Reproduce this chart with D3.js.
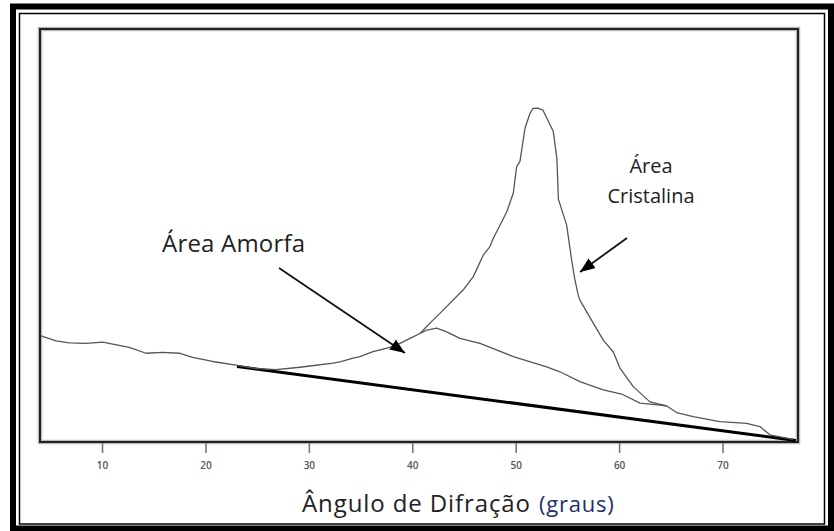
<!DOCTYPE html>
<html>
<head>
<meta charset="utf-8">
<script src="https://cdn.jsdelivr.net/npm/d3@7"></script>
<style>
  html, body { margin: 0; padding: 0; background: #fff; }
  svg { display: block; }
</style>
</head>
<body>
<svg id="chart" width="834" height="531"></svg>
<script>
// ---- data (2θ in degrees, intensity in arbitrary units) ----
const tickValues = [10, 20, 30, 40, 50, 60, 70];

const totalAngle = [4.1, 5.55, 6.83, 8.45, 10.06, 11.03, 12.63, 14.25, 15.86, 17.47, 18.76, 20.7, 22.95, 24.89, 26.82,
  29.14, 30.11, 32.33, 33.01, 34.27, 34.94, 36.2, 36.88, 38.13, 38.81, 39.78, 40.74, 41.71, 42.84, 44.93, 45.9,
  46.86, 47.51, 47.84, 49.13, 49.77, 50.09, 50.41, 50.9, 51.38, 51.67, 52.15, 52.64, 53.63, 53.99, 54.13, 54.93,
  55.41, 55.73, 56.05, 56.21, 57.5, 58.47, 59.44, 60.08, 61.37, 62.98, 64.6, 65.56, 67.17, 69.75, 72.33, 73.62,
  74.58, 75.55, 76.81];
const totalIntensity = [25.5, 24.3, 23.8, 23.7, 24.0, 23.5, 22.7, 21.3, 21.5, 21.3, 20.3, 19.3, 18.4, 17.6, 17.3,
  17.9, 18.2, 18.9, 19.2, 20.1, 20.5, 21.7, 22.1, 22.9, 23.7, 24.9, 26.1, 28.6, 31.4, 36.7, 39.9,
  45.1, 47.2, 49.2, 55.6, 60.2, 66.6, 67.8, 75.9, 79.5, 80.7, 80.8, 80.3, 75.2, 68.4, 58.7, 52.4,
  43.9, 39.1, 35.4, 34.2, 28.6, 24.5, 21.6, 17.7, 13.2, 9.5, 8.5, 6.9, 5.9, 4.7, 4.3, 3.5,
  1.5, 1.0, 0.4];

const amorphAngle = [40.74, 41.39, 42.36, 43.33, 44.61, 46.55, 49.77, 52.99, 54.28, 56.21, 58.47, 60.25, 62.02, 63.96, 64.6];
const amorphIntensity = [26.1, 26.9, 27.4, 26.5, 24.9, 23.7, 20.5, 18.0, 16.8, 14.4, 12.4, 11.4, 9.2, 8.7, 8.5];

const baselineAngle = [23.05, 77.1];
const baselineIntensity = [18.1, 0.1];

const labelAmorfa = "Área Amorfa";
const labelCristalina = ["Área", "Cristalina"];
const xTitle = "Ângulo de Difração";
const xUnit = "(graus)";

// ---- drawing ----
const svg = d3.select("#chart");

// decorative frame
svg.append("rect").attr("x", 13).attr("y", 6.5).attr("width", 818).attr("height", 522)
  .attr("fill", "none").attr("stroke", "#000").attr("stroke-width", 6);
svg.append("rect").attr("x", 19.5).attr("y", 13.5).attr("width", 805).attr("height", 510.5)
  .attr("fill", "none").attr("stroke", "#000").attr("stroke-width", 1.5);

const plot = { left: 40, right: 798, top: 29, bottom: 442 };
const x = d3.scaleLinear().domain([4, 77.3]).range([plot.left, plot.right]);
const y = d3.scaleLinear().domain([0, 100]).range([441, plot.top]);

// plot box (soft shadow + dark line)
svg.append("rect").attr("x", plot.left).attr("y", plot.top)
  .attr("width", plot.right - plot.left).attr("height", plot.bottom - plot.top)
  .attr("fill", "none").attr("stroke", "#bbb").attr("stroke-width", 4.5);
svg.append("rect").attr("x", plot.left).attr("y", plot.top)
  .attr("width", plot.right - plot.left).attr("height", plot.bottom - plot.top)
  .attr("fill", "none").attr("stroke", "#222").attr("stroke-width", 2);

// axis
const axis = d3.axisBottom(x).tickValues(tickValues).tickSize(10).tickPadding(9).tickFormat(d => d);
const gAxis = svg.append("g").attr("transform", `translate(0,${plot.bottom + 1})`).call(axis);
gAxis.select(".domain").remove();
gAxis.selectAll(".tick line").attr("stroke", "#777").attr("stroke-width", 1.6);
gAxis.selectAll(".tick text").attr("fill", "#555").attr("font-family", "'Open Sans', sans-serif")
  .attr("font-size", 10).attr("font-weight", 600);

// curves
const line = d3.line().x(d => x(d[0])).y(d => y(d[1]));
const zip = (a, b) => a.map((v, i) => [v, b[i]]);

svg.append("path").datum(zip(baselineAngle, baselineIntensity))
  .attr("d", line).attr("fill", "none").attr("stroke", "#000").attr("stroke-width", 3);
svg.append("path").datum(zip(amorphAngle, amorphIntensity))
  .attr("d", line).attr("fill", "none").attr("stroke", "#555").attr("stroke-width", 1.3)
  .attr("stroke-linejoin", "round");
svg.append("path").datum(zip(totalAngle, totalIntensity))
  .attr("d", line).attr("fill", "none").attr("stroke", "#555").attr("stroke-width", 1.3)
  .attr("stroke-linejoin", "round");

// arrows
const defs = svg.append("defs");
defs.append("marker").attr("id", "ah").attr("viewBox", "0 0 10 10")
  .attr("refX", 10).attr("refY", 5).attr("markerWidth", 15).attr("markerHeight", 12)
  .attr("markerUnits", "userSpaceOnUse").attr("orient", "auto")
  .attr("preserveAspectRatio", "none")
  .append("path").attr("d", "M0,0 L10,5 L0,10 Z").attr("fill", "#000");

svg.append("line").attr("x1", 279).attr("y1", 268).attr("x2", 405).attr("y2", 353)
  .attr("stroke", "#111").attr("stroke-width", 1.8).attr("marker-end", "url(#ah)");
svg.append("line").attr("x1", 627).attr("y1", 238).attr("x2", 580).attr("y2", 272)
  .attr("stroke", "#111").attr("stroke-width", 1.8).attr("marker-end", "url(#ah)");

// annotation text
const tf = "'Open Sans', sans-serif";
svg.append("text").attr("x", 162).attr("y", 252)
  .attr("font-family", tf).attr("font-size", 24).attr("letter-spacing", 0.2)
  .attr("fill", "#222").text(labelAmorfa);
svg.append("text").attr("x", 651).attr("y", 173).attr("text-anchor", "middle")
  .attr("font-family", tf).attr("font-size", 20).attr("fill", "#222").text(labelCristalina[0]);
svg.append("text").attr("x", 651).attr("y", 203).attr("text-anchor", "middle")
  .attr("font-family", tf).attr("font-size", 20).attr("fill", "#222").text(labelCristalina[1]);

// x title
const title = svg.append("text").attr("x", 302).attr("y", 512)
  .attr("font-family", tf).attr("fill", "#222");
title.append("tspan").attr("font-size", 24).attr("letter-spacing", 0.9).text(xTitle);
title.append("tspan").attr("dx", 8).attr("font-size", 22).attr("letter-spacing", 0.8)
  .attr("fill", "#1f2f6e").text(xUnit);
</script>
</body>
</html>
